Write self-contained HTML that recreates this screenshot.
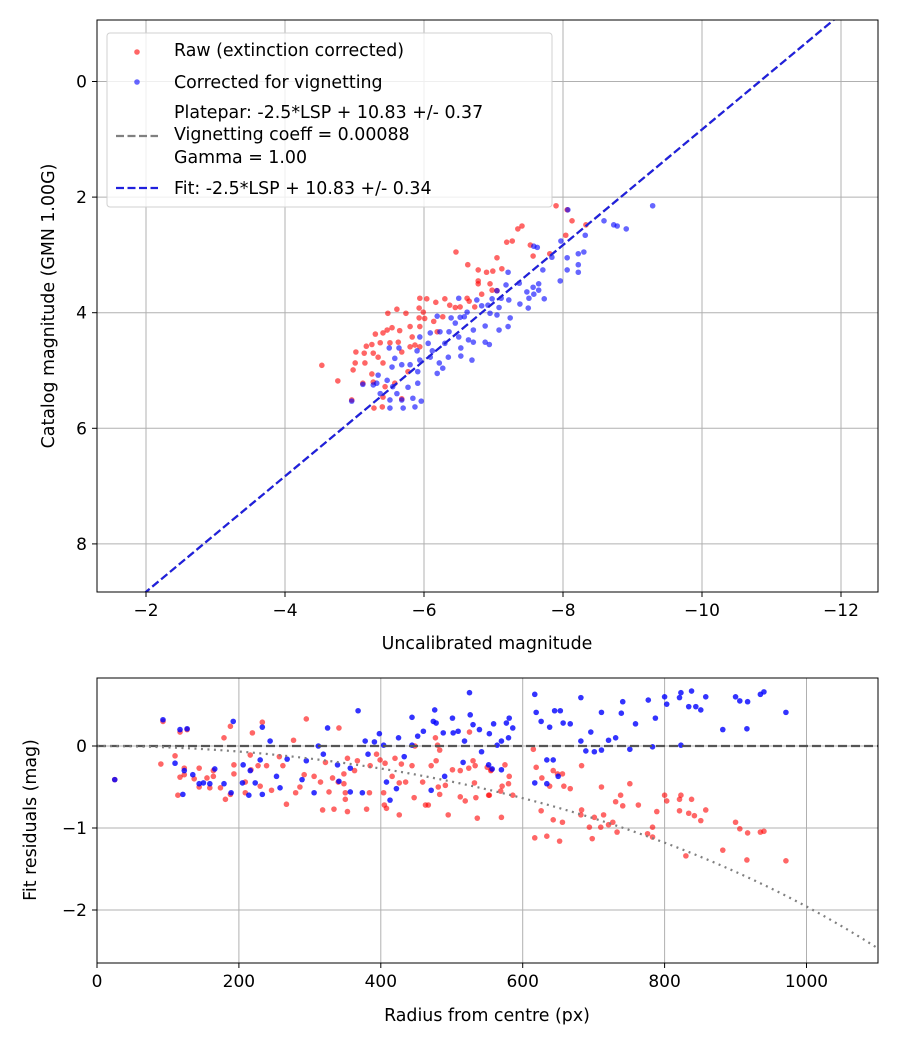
<!DOCTYPE html>
<html><head><meta charset="utf-8"><style>
html,body{margin:0;padding:0;background:#fff;}
svg{display:block;font-family:"DejaVu Sans","Liberation Sans",sans-serif;}
</style></head><body>
<svg id="fig" width="900" height="1050" viewBox="0 0 900 1050" xmlns="http://www.w3.org/2000/svg">
<rect width="900" height="1050" fill="#fff"/>
<g id="topPanel"></g>
<g id="botPanel"></g>
</svg>
<script>
// ===== Top panel data =====
const rawX=[-7.90,-8.06,-8.13,-8.33,-8.04,-7.41,-7.35,-7.27,-7.19,-7.53,-7.57,-7.81,-6.46,-7.05,-7.12,-6.63,-6.78,-6.90,-6.99,-6.78,-6.78,-6.95,-6.98,-7.05,-6.83,-6.62,-6.30,-6.17,-6.04,-5.94,-6.37,-6.45,-6.52,-6.65,-6.73,-5.93,-5.99,-5.74,-5.61,-5.48,-5.93,-6.01,-6.14,-6.27,-5.94,-5.80,-5.65,-5.54,-5.47,-5.41,-5.30,-5.83,-6.19,-5.87,-5.63,-5.51,-5.37,-5.25,-5.17,-5.27,-5.14,-5.02,-5.15,-5.01,-4.98,-5.34,-5.41,-5.68,-5.80,-4.76,-5.12,-5.25,-5.27,-5.44,-5.58,-5.41,-5.28,-5.40,-5.68,-4.96,-5.77,-5.94,-4.53];
const rawY=[2.15,2.22,2.41,2.48,2.66,2.50,2.55,2.76,2.78,2.83,3.02,2.98,2.95,3.05,3.24,3.17,3.26,3.30,3.28,3.45,3.50,3.50,3.61,3.62,3.68,3.75,3.76,3.82,3.76,3.75,3.87,3.91,3.90,3.80,3.90,3.92,3.99,4.01,3.94,4.01,4.09,4.10,4.15,4.07,4.24,4.24,4.31,4.26,4.30,4.35,4.37,4.42,4.33,4.56,4.51,4.52,4.52,4.55,4.58,4.70,4.70,4.68,4.87,4.87,4.99,4.77,4.87,4.68,4.59,5.18,5.22,5.06,5.20,5.28,5.22,5.46,5.65,5.63,5.49,5.51,5.02,4.59,4.91];
const corX=[-9.29,-8.07,-8.59,-8.73,-8.78,-8.91,-8.32,-7.97,-7.58,-7.63,-7.84,-8.06,-8.22,-8.30,-8.22,-8.06,-8.22,-7.96,-7.71,-7.21,-7.37,-7.65,-7.57,-7.48,-7.65,-7.58,-7.51,-7.73,-7.38,-7.50,-7.18,-7.05,-7.11,-7.22,-6.98,-6.92,-7.08,-7.05,-7.24,-6.95,-7.21,-7.08,-6.88,-6.94,-6.88,-6.71,-6.64,-6.71,-6.62,-6.50,-6.76,-6.83,-6.58,-6.52,-6.45,-6.50,-6.53,-6.53,-6.69,-6.36,-6.30,-6.19,-6.39,-6.23,-6.35,-6.22,-6.27,-6.19,-6.09,-6.12,-6.06,-6.09,-5.94,-5.90,-5.94,-5.80,-5.68,-5.64,-5.50,-5.58,-5.54,-5.91,-5.77,-5.91,-5.84,-5.96,-5.55,-5.61,-5.47,-5.34,-5.32,-5.37,-5.51,-5.68,-5.70,-5.51,-5.27,-5.12,-4.96,-5.87];
const corY=[2.15,2.22,2.41,2.48,2.50,2.55,2.66,2.76,2.85,2.87,3.04,3.05,2.98,2.95,3.17,3.26,3.30,3.45,3.26,3.30,3.49,3.50,3.56,3.64,3.61,3.68,3.75,3.76,3.85,3.92,3.52,3.62,3.75,3.78,3.76,3.87,3.91,4.04,4.09,4.01,4.24,4.30,4.23,4.55,4.51,4.51,4.47,4.30,3.99,3.75,3.78,3.88,4.07,4.08,4.18,4.42,4.61,4.75,4.82,4.33,4.53,4.06,4.09,4.33,4.77,4.87,4.96,5.05,4.77,4.66,4.53,4.35,4.42,4.66,4.82,4.90,4.90,4.61,4.61,4.79,4.94,5.02,5.29,5.22,5.48,5.53,5.28,5.40,5.17,5.08,5.22,5.40,5.51,5.51,5.65,5.65,5.25,5.24,5.53,5.63];
const fitIntercept=10.83;
const topXTicks=[-2,-4,-6,-8,-10,-12];
const topYTicks=[0,2,4,6,8];

// ===== Bottom panel data =====
const resBlueR=[25,93,117,127,110,123,121,135,144,150,159,166,179,189,192,206,205,214,216,223,230,233,233,244,253,258,268,289,295,312,306,319,325,339,341,357,357,368,374,378,382,391,398,404,408,413,422,425,433,444,444,452,460,471,474,476,478,488,490,501,502,509,516,518,526,530,539,553,559,552,557,564,525,577,581,570,580,586,617,619,626,638,645,653,657,667,682,682,689,696,711,701,634,643,634,650,617,570,542,711,721,731,739,741,751,759,777,787,783,800,803,823,821,823,838,834,844,851,858,882,900,906,917,916,935,940,971];
const resBlueV=[-0.41,0.32,0.20,0.21,-0.21,-0.30,-0.59,-0.35,-0.46,-0.45,-0.46,-0.28,-0.46,-0.57,0.30,-0.23,-0.45,-0.60,-0.30,-0.45,-0.17,-0.59,0.23,0.06,-0.37,-0.51,-0.16,-0.41,-0.18,0.00,-0.57,-0.10,0.22,-0.23,-0.43,-0.27,-0.56,0.43,-0.57,0.06,-0.10,0.05,0.15,0.01,-0.44,-0.66,-0.52,0.10,-0.13,0.01,0.35,0.12,0.18,-0.54,0.30,0.44,0.28,0.16,-0.37,0.34,0.16,0.18,-0.20,0.06,0.38,0.26,0.20,0.15,0.27,-0.23,-0.28,0.01,0.65,0.28,0.34,0.06,0.10,0.22,0.63,0.41,0.30,0.23,0.43,0.43,0.28,0.27,0.59,0.06,-0.06,0.17,-0.05,-0.07,-0.17,-0.17,-0.46,-0.37,-0.45,-0.29,-0.07,0.41,0.07,0.10,0.40,0.54,-0.04,0.27,0.56,0.34,-0.01,0.60,0.51,0.01,0.59,0.65,0.67,0.48,0.48,0.44,0.60,0.20,0.60,0.55,0.54,0.21,0.63,0.66,0.41];
const resRedR=[25,93,117,127,110,90,123,117,123,114,137,144,144,155,164,164,159,174,179,188,181,188,193,193,209,209,216,219,217,227,230,233,239,246,257,262,267,277,280,286,292,295,306,315,318,322,327,332,334,340,341,348,350,350,353,348,353,363,367,380,384,385,394,399,404,405,408,406,416,420,426,426,429,435,444,447,448,459,463,467,471,477,480,483,478,481,483,495,491,501,512,512,519,524,525,530,533,532,534,536,550,553,555,552,556,570,569,571,575,580,581,586,615,617,619,626,627,634,638,643,643,649,652,656,656,658,667,682,683,683,694,698,701,710,711,714,721,727,733,731,738,741,751,763,776,783,783,789,800,803,821,823,821,830,834,838,842,851,858,882,900,906,916,917,935,940,971];
const resRedV=[-0.41,0.30,0.17,0.20,-0.12,-0.22,-0.27,-0.38,-0.35,-0.60,-0.40,-0.27,-0.50,-0.39,-0.37,-0.30,-0.51,-0.51,0.10,0.24,-0.65,-0.59,-0.34,-0.23,-0.44,-0.57,-0.11,0.16,-0.29,-0.24,-0.49,0.29,-0.24,-0.54,-0.13,-0.24,-0.71,0.07,-0.57,-0.50,-0.35,0.33,-0.37,-0.44,-0.78,-0.20,-0.56,-0.39,-0.77,-0.44,0.22,-0.46,-0.57,-0.65,-0.80,-0.34,-0.15,-0.30,-0.18,-0.77,-0.57,-0.24,-0.10,-0.17,-0.57,-0.72,-0.76,-0.21,-0.37,-0.15,-0.84,-0.45,-0.22,-0.44,-0.24,-0.63,0.00,-0.44,-0.72,-0.72,-0.24,0.10,0.01,-0.05,-0.18,-0.50,-0.59,-0.84,-0.48,-0.29,-0.30,-0.62,-0.67,-0.27,0.17,-0.18,-0.24,-0.45,-0.63,-0.88,-0.26,-0.60,-0.30,-0.60,-0.29,-0.87,-0.55,-0.49,-0.23,-0.46,-0.37,-0.60,-0.04,-1.12,-0.26,-0.79,-0.39,-1.10,-0.49,-0.30,-0.90,-0.34,-1.16,-0.34,-0.93,-0.49,-0.52,-0.84,-0.24,-0.78,-0.99,-1.13,-0.87,-0.99,-0.50,-0.84,-0.96,-0.93,-1.05,-0.68,-0.60,-0.73,-0.46,-0.72,-1.07,-0.99,-1.11,-0.80,-0.60,-0.67,-0.65,-0.60,-0.79,-1.34,-0.82,-0.65,-0.85,-0.91,-0.78,-1.27,-0.93,-1.01,-1.39,-1.06,-1.05,-1.04,-1.40];
const vignCoeff=0.00088;
const botXTicks=[0,200,400,600,800,1000];
const botYTicks=[0,-1,-2];

const NS="http://www.w3.org/2000/svg";
function mk(parent,tag,attrs){const e=document.createElementNS(NS,tag);for(const k in attrs)e.setAttribute(k,attrs[k]);parent.appendChild(e);return e;}
function fmt(v){return v<0?"\u2212"+(-v):""+v;}

// ---- top axes ----
const T={l:97,r:878,t:20,b:592};
const tx=v=>146+(-2-v)*69.5;
const ty=v=>81.5+v*57.8;
const topG=document.getElementById('topPanel');
topXTicks.forEach(v=>{
  const g=mk(topG,'line',{x1:tx(v),x2:tx(v),y1:T.t,y2:T.b,stroke:'#b0b0b0','stroke-width':1});
  
  
  const tk=mk(topG,'line',{x1:tx(v),x2:tx(v),y1:T.b,y2:T.b+5,stroke:'#000'});
  
  
  const t=mk(topG,'text',{x:tx(v),y:T.b+24,'font-size':17,'text-anchor':'middle'});t.textContent=fmt(v);
  
  
});
topYTicks.forEach(v=>{
  const g=mk(topG,'line',{x1:T.l,x2:T.r,y1:ty(v),y2:ty(v),stroke:'#b0b0b0','stroke-width':1});
  
  
  const tk=mk(topG,'line',{x1:T.l-5,x2:T.l,y1:ty(v),y2:ty(v),stroke:'#000'});
  
  
  const t=mk(topG,'text',{x:T.l-10,y:ty(v)+6,'font-size':17,'text-anchor':'end'});t.textContent=fmt(v);
  
  
});
const cp=mk(topG,'clipPath',{id:'cpT'});mk(cp,'rect',{x:T.l,y:T.t,width:T.r-T.l,height:T.b-T.t});
const topData=mk(topG,'g',{'clip-path':'url(#cpT)'});
rawX.forEach((x,i)=>{const c=mk(topData,'circle',{cx:tx(x),cy:ty(rawY[i]),r:2.8,fill:'rgba(255,0,0,0.6)'});
  
  });
corX.forEach((x,i)=>{const c=mk(topData,'circle',{cx:tx(x),cy:ty(corY[i]),r:2.8,fill:'rgba(0,0,255,0.6)'});
  
  });
const lx1=-1.2,lx2=-12.6;
const pl=mk(topData,'line',{x1:tx(lx1),y1:ty(lx1+fitIntercept),x2:tx(lx2),y2:ty(lx2+fitIntercept),stroke:'#808080','stroke-width':2.2,'stroke-dasharray':'8,3.5'});


const fl=mk(topData,'line',{x1:tx(lx1),y1:ty(lx1+fitIntercept),x2:tx(lx2),y2:ty(lx2+fitIntercept),stroke:'#2020dd','stroke-width':2.2,'stroke-dasharray':'8,3.5'});


const tf=mk(topG,'rect',{x:T.l,y:T.t,width:T.r-T.l,height:T.b-T.t,fill:'none',stroke:'#000','stroke-width':1});



// legend
const lg=mk(topG,'g',{});


mk(lg,'rect',{x:107,y:33,width:445,height:174,rx:3,fill:'rgba(255,255,255,0.8)',stroke:'#d0d0d0'});
mk(lg,'circle',{cx:137,cy:52,r:2.8,fill:'rgba(255,0,0,0.6)'});
mk(lg,'circle',{cx:137,cy:82,r:2.8,fill:'rgba(0,0,255,0.6)'});
mk(lg,'line',{x1:116,x2:158,y1:136,y2:136,stroke:'#808080','stroke-width':2.2,'stroke-dasharray':'8,3.5'});
mk(lg,'line',{x1:116,x2:158,y1:188,y2:188,stroke:'#2020dd','stroke-width':2.2,'stroke-dasharray':'8,3.5'});
[["Raw (extinction corrected)",56],["Corrected for vignetting",88],["Platepar: -2.5*LSP + 10.83 +/- 0.37",118],["Vignetting coeff = 0.00088",140],["Gamma = 1.00",163],["Fit: -2.5*LSP + 10.83 +/- 0.34",194]].forEach(([s,y])=>{
  const t=mk(lg,'text',{x:174,y:y,'font-size':17.4});t.textContent=s;
  
  
});
const xt=mk(topG,'text',{x:487,y:649,'font-size':17.4,'text-anchor':'middle'});xt.textContent="Uncalibrated magnitude";


const yt=mk(topG,'text',{x:0,y:0,'font-size':17.4,'text-anchor':'middle',transform:'translate(54,306) rotate(-90)'});yt.textContent="Catalog magnitude (GMN 1.00G)";



// ---- bottom axes ----
const B={l:97,r:878,t:678,b:963};
const bx=v=>97+v*0.7095;
const by=v=>746-v*82;
const botG=document.getElementById('botPanel');
botXTicks.forEach(v=>{
  const g=mk(botG,'line',{x1:bx(v),x2:bx(v),y1:B.t,y2:B.b,stroke:'#b0b0b0'});
  
  
  const tk=mk(botG,'line',{x1:bx(v),x2:bx(v),y1:B.b,y2:B.b+5,stroke:'#000'});
  
  
  const t=mk(botG,'text',{x:bx(v),y:B.b+24,'font-size':17,'text-anchor':'middle'});t.textContent=fmt(v);
  
  
});
botYTicks.forEach(v=>{
  const g=mk(botG,'line',{x1:B.l,x2:B.r,y1:by(v),y2:by(v),stroke:'#b0b0b0'});
  
  
  const tk=mk(botG,'line',{x1:B.l-5,x2:B.l,y1:by(v),y2:by(v),stroke:'#000'});
  
  
  const t=mk(botG,'text',{x:B.l-10,y:by(v)+6,'font-size':17,'text-anchor':'end'});t.textContent=fmt(v);
  
  
});
const cp2=mk(botG,'clipPath',{id:'cpB'});mk(cp2,'rect',{x:B.l,y:B.t,width:B.r-B.l,height:B.b-B.t});
const botData=mk(botG,'g',{'clip-path':'url(#cpB)'});
resRedR.forEach((r,i)=>{const c=mk(botData,'circle',{cx:bx(r),cy:by(resRedV[i]),r:2.8,fill:'rgba(255,0,0,0.6)'});
  
  });
resBlueR.forEach((r,i)=>{const c=mk(botData,'circle',{cx:bx(r),cy:by(resBlueV[i]),r:2.8,fill:'rgba(0,0,255,0.8)'});
  
  });
const zl=mk(botData,'line',{x1:B.l,x2:B.r,y1:by(0),y2:by(0),stroke:'#555','stroke-width':2.2,'stroke-dasharray':'9,4'});


let pts=[];for(let r=0;r<=1110;r+=10){const a=vignCoeff*r;pts.push(bx(r)+','+by(2.5*Math.log10(Math.pow(Math.cos(a),4))));}
const vc=mk(botData,'polyline',{points:pts.join(' '),fill:'none',stroke:'#808080','stroke-width':2.2,'stroke-dasharray':'2,4.5'});


const bf=mk(botG,'rect',{x:B.l,y:B.t,width:B.r-B.l,height:B.b-B.t,fill:'none',stroke:'#000'});


const bxt=mk(botG,'text',{x:487,y:1021,'font-size':17.4,'text-anchor':'middle'});bxt.textContent="Radius from centre (px)";


const byt=mk(botG,'text',{x:0,y:0,'font-size':17.4,'text-anchor':'middle',transform:'translate(36,820) rotate(-90)'});byt.textContent="Fit residuals (mag)";


</script>
</body></html>
